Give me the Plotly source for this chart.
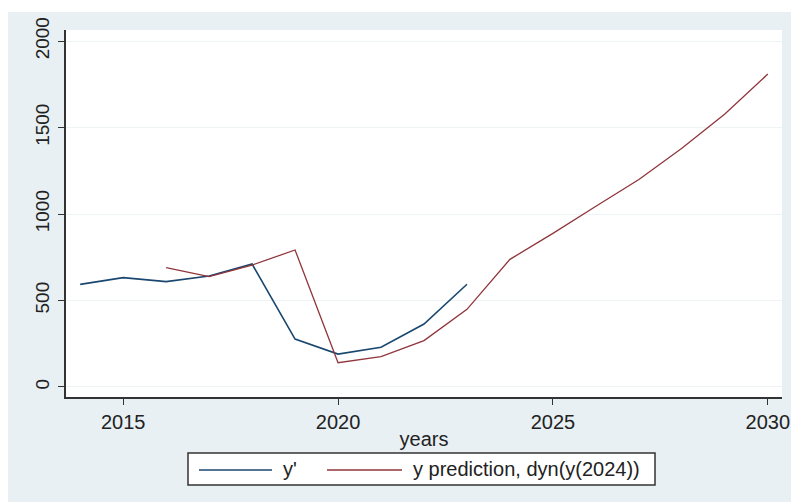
import plotly.graph_objects as go

years_actual = [2014, 2015, 2016, 2017, 2018, 2019, 2020, 2021, 2022, 2023]
y_actual = [593, 632, 609, 642, 711, 277, 190, 230, 364, 594]

years_pred = [2016, 2017, 2018, 2019, 2020, 2021, 2022, 2023, 2024, 2025, 2026, 2027, 2028, 2029, 2030]
y_pred = [690, 638, 705, 792, 140, 175, 268, 449, 738, 888, 1045, 1200, 1380, 1578, 1809]

x_ticks = [2015, 2020, 2025, 2030]
y_ticks = [0, 500, 1000, 1500, 2000]

legend_names = ["y'", "y prediction, dyn(y(2024))"]

BG = "#e8f0f3"
NAVY = "#1a476f"
MAROON = "#90353b"
FONT = "Liberation Sans, Arial, sans-serif"
TXT = "#222222"

W, H = 791, 502
L, R, T, B = 66, 9, 30, 105
pw, ph = W - L - R, H - T - B


def px_x(x):  # x in screen pixels -> paper
    return (x - L) / pw


def px_y(y):  # y in screen pixels -> paper
    return (H - B - y) / ph


fig = go.Figure()
fig.add_trace(go.Scatter(x=years_actual, y=y_actual, mode="lines", name=legend_names[0],
                         line=dict(color=NAVY, width=1.6), showlegend=False))
fig.add_trace(go.Scatter(x=years_pred, y=y_pred, mode="lines", name=legend_names[1],
                         line=dict(color=MAROON, width=1.3), showlegend=False))

shapes = [
    # white strips at the top and left edge of the image
    dict(type="rect", xref="paper", yref="paper",
         x0=-0.3, x1=1.3, y0=px_y(12), y1=1.5,
         fillcolor="white", line=dict(width=0), layer="below"),
    dict(type="rect", xref="paper", yref="paper",
         x0=-0.3, x1=px_x(8), y0=-0.5, y1=1.5,
         fillcolor="white", line=dict(width=0), layer="below"),
    # legend box
    dict(type="rect", xref="paper", yref="paper",
         x0=px_x(188), x1=px_x(655), y0=px_y(485), y1=px_y(453),
         fillcolor="white", line=dict(color="#333333", width=1.5)),
    dict(type="line", xref="paper", yref="paper",
         x0=px_x(199), x1=px_x(272), y0=px_y(470), y1=px_y(470),
         line=dict(color=NAVY, width=1.6)),
    dict(type="line", xref="paper", yref="paper",
         x0=px_x(327), x1=px_x(402), y0=px_y(470), y1=px_y(470),
         line=dict(color=MAROON, width=1.3)),
]

annotations = [
    dict(xref="paper", yref="paper", x=px_x(281), y=px_y(469), xanchor="left", yanchor="middle",
         text=legend_names[0], showarrow=False, font=dict(size=20, family=FONT, color=TXT)),
    dict(xref="paper", yref="paper", x=px_x(411), y=px_y(469), xanchor="left", yanchor="middle",
         text=legend_names[1], showarrow=False, font=dict(size=20, family=FONT, color=TXT)),
]

fig.update_layout(
    width=W, height=H,
    margin=dict(l=L, r=R, t=T, b=B, autoexpand=False),
    paper_bgcolor=BG,
    plot_bgcolor="white",
    font=dict(family=FONT, color=TXT),
    showlegend=False,
    xaxis=dict(
        range=[2013.67, 2030.33],
        tickvals=x_ticks,
        ticks="outside", ticklen=6, tickcolor="#333333", tickwidth=1.2,
        showline=True, linecolor="#333333", linewidth=1.5,
        showgrid=False, zeroline=False, automargin=False,
        tickfont=dict(size=20, family=FONT, color=TXT),
        title=dict(text="years", font=dict(size=20, family=FONT, color=TXT), standoff=0),
    ),
    yaxis=dict(
        range=[-58, 2064],
        tickvals=y_ticks,
        ticks="outside", ticklen=6, tickcolor="#333333", tickwidth=1.2,
        showline=True, linecolor="#333333", linewidth=1.5,
        showgrid=True, gridcolor="#eef3f5", gridwidth=1,
        zeroline=False, automargin=False,
        tickangle=-90,
        tickfont=dict(size=19, family=FONT, color=TXT),
        ticklabelstandoff=2,
    ),
    shapes=shapes,
    annotations=annotations,
)

fig.write_html(
    "out.html",
    config={"displayModeBar": False},
    post_script="document.body.style.margin='0';document.documentElement.style.overflow='hidden';",
)
